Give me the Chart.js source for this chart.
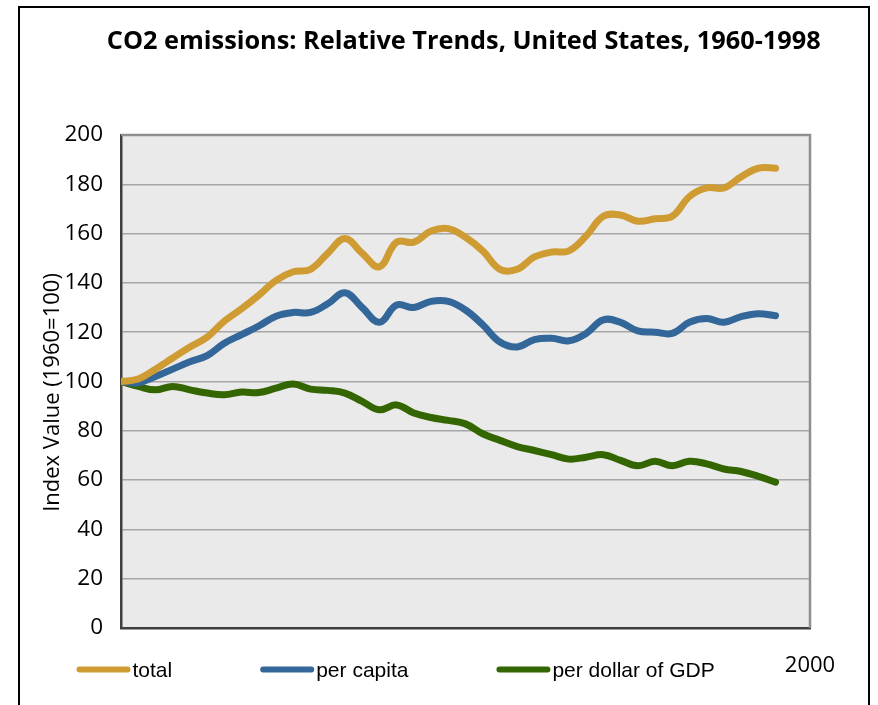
<!DOCTYPE html>
<html>
<head>
<meta charset="utf-8">
<title>CO2 emissions: Relative Trends, United States, 1960-1998</title>
<script src="https://cdn.jsdelivr.net/npm/chart.js@4.4.1/dist/chart.umd.min.js"></script>
<style>
    html, body { margin: 0; padding: 0; background: #fff; }
    #chart { display: block; }
</style>
</head>
<body>
<canvas id="chart" width="878" height="705"></canvas>
<script>
// Dados (índice 1960 = 100)
const years = [
    1960, 1961, 1962, 1963, 1964, 1965, 1966, 1967, 1968, 1969,
    1970, 1971, 1972, 1973, 1974, 1975, 1976, 1977, 1978, 1979,
    1980, 1981, 1982, 1983, 1984, 1985, 1986, 1987, 1988, 1989,
    1990, 1991, 1992, 1993, 1994, 1995, 1996, 1997, 1998
];
const totalValues = [
    100, 101, 105, 109.5, 114, 118, 124.5, 129.5, 135, 141,
    144.5, 145.5, 152, 158, 152, 146.5, 156.5, 156.5, 161, 162,
    158.5, 153, 145.5, 145.5, 150.5, 152.5, 153, 159, 167, 167.5,
    165, 166, 167, 175, 178.5, 178.5, 183, 186.5, 186.5
];
const perCapitaValues = [
    100, 99.5, 102, 105, 108, 110.5, 115.5, 119, 122.5, 126.5,
    128, 128, 131.5, 136, 130, 124, 131, 130, 132.5, 132.5,
    129, 123, 116, 114, 117, 117.5, 116.5, 119.5, 125, 124,
    120.5, 120, 119.5, 124, 125.5, 124, 126.3, 127.5, 126.7
];
const perGdpValues = [
    100, 98, 96.6, 98, 96.6, 95.3, 94.6, 95.7, 95.5, 97.3,
    99, 96.9, 96.4, 95.3, 91.9, 88.5, 90.5, 87.2, 85.4, 84.2,
    82.8, 78.8, 76.1, 73.6, 72, 70.3, 68.5, 69.3, 70.3, 68,
    65.8, 67.6, 65.8, 67.6, 66.6, 64.5, 63.5, 61.5, 59.2
];
const seriesLabels = ['total', 'per capita', 'per dollar of GDP'];
const yTickValues = [0, 20, 40, 60, 80, 100, 120, 140, 160, 180, 200];
const xTickValues = [2000];

const FONT = '"Open Sans", "Noto Sans", sans-serif';

function toPoints(values) {
    return values.map((v, i) => ({ x: years[i], y: v }));
}

function lineDataset(label, values, color) {
    return {
        label: label,
        data: toPoints(values),
        borderColor: color,
        backgroundColor: color,
        borderWidth: 7,
        borderCapStyle: 'round',
        borderJoinStyle: 'round',
        pointRadius: 0,
        pointHoverRadius: 0,
        tension: 0.4,
        fill: false
    };
}

/**
 * Moldura, fundo da área de plotagem e bordas
 */
const decorPlugin = {
    id: 'decor',
    beforeDraw(chart) {
        const { ctx, chartArea: a } = chart;
        ctx.save();
        ctx.fillStyle = '#fff';
        ctx.fillRect(0, 0, chart.width, chart.height);
        ctx.strokeStyle = '#000';
        ctx.lineWidth = 2;
        ctx.strokeRect(19, 7, 850, 720);
        ctx.fillStyle = '#eaeaea';
        ctx.fillRect(a.left, a.top, a.right - a.left, a.bottom - a.top);
        ctx.restore();
    },
    afterDatasetsDraw(chart) {
        const { ctx, chartArea: a } = chart;
        ctx.save();
        ctx.strokeStyle = '#8f8f8f';
        ctx.lineWidth = 2.5;
        ctx.beginPath();
        ctx.moveTo(a.left, a.top);
        ctx.lineTo(a.right, a.top);
        ctx.lineTo(a.right, a.bottom);
        ctx.stroke();
        ctx.restore();
    }
};

/**
 * Legenda em linha, no estilo do original
 */
const lineLegendPlugin = {
    id: 'lineLegend',
    afterDraw(chart) {
        const ctx = chart.ctx;
        ctx.save();
        ctx.font = '21px "Liberation Sans", Arial, sans-serif';
        ctx.textBaseline = 'middle';
        let x = 79.5;
        const y = 669.5;
        chart.data.datasets.forEach(ds => {
            ctx.strokeStyle = ds.borderColor;
            ctx.lineWidth = 6;
            ctx.lineCap = 'round';
            ctx.beginPath();
            ctx.moveTo(x, y);
            ctx.lineTo(x + 48, y);
            ctx.stroke();
            ctx.fillStyle = '#000';
            ctx.fillText(ds.label, x + 53, y + 2);
            x += 53 + ctx.measureText(ds.label).width + 88 + 3;
        });
        ctx.restore();
    }
};

const canvas = document.getElementById('chart');
new Chart(canvas.getContext('2d'), {
    type: 'line',
    data: {
        datasets: [
            lineDataset(seriesLabels[0], totalValues, '#cf9c33'),
            lineDataset(seriesLabels[1], perCapitaValues, '#336699'),
            lineDataset(seriesLabels[2], perGdpValues, '#336600')
        ]
    },
    options: {
        responsive: false,
        animation: false,
        layout: { padding: { left: 20, right: 0, top: 6, bottom: 0 } },
        plugins: {
            legend: { display: false },
            tooltip: { enabled: false },
            title: {
                display: true,
                // espaços no início deslocam o título para a direita, como no original
                text: '\u2002\u2002\u2009CO2 emissions: Relative Trends, United States, 1960-1998',
                color: '#000',
                font: { family: FONT, size: 25.3, weight: 'bold' },
                padding: { top: 21, bottom: 77.6 }
            }
        },
        scales: {
            x: {
                type: 'linear',
                min: 1960,
                max: 2000,
                afterBuildTicks: axis => { axis.ticks = xTickValues.map(v => ({ value: v })); },
                afterFit: axis => { axis.height = 77; },
                grid: { display: false, drawTicks: false },
                border: { display: true, color: '#3f3f3f', width: 2.5 },
                ticks: {
                    color: '#000',
                    padding: 25,
                    maxRotation: 0,
                    font: { family: FONT, size: 22 },
                    callback: v => String(v)
                }
            },
            y: {
                min: 0,
                max: 200,
                afterBuildTicks: axis => { axis.ticks = yTickValues.map(v => ({ value: v })); },
                afterFit: axis => { axis.width = 101; },
                grid: { color: '#a6a6a6', lineWidth: 1.5, drawTicks: false },
                border: { display: true, color: '#3f3f3f', width: 2.5 },
                ticks: {
                    color: '#000',
                    padding: 18,
                    font: { family: FONT, size: 22.5 }
                },
                title: {
                    display: true,
                    // dois espaços largos no fim deslocam o centro do texto para baixo, como no original
                    text: 'Index Value (1960=100)\u2002\u2002',
                    color: '#000',
                    font: { family: FONT, size: 22 },
                    padding: { top: 20, bottom: 0 }
                }
            },
            // eixo vazio à direita: só reserva a margem do lado direito da área de plotagem
            yRight: {
                position: 'right',
                min: 0,
                max: 200,
                afterFit: axis => { axis.width = 68; },
                grid: { display: false, drawTicks: false },
                border: { display: false },
                ticks: { display: false }
            }
        }
    },
    plugins: [decorPlugin, lineLegendPlugin]
});
</script>
</body>
</html>
